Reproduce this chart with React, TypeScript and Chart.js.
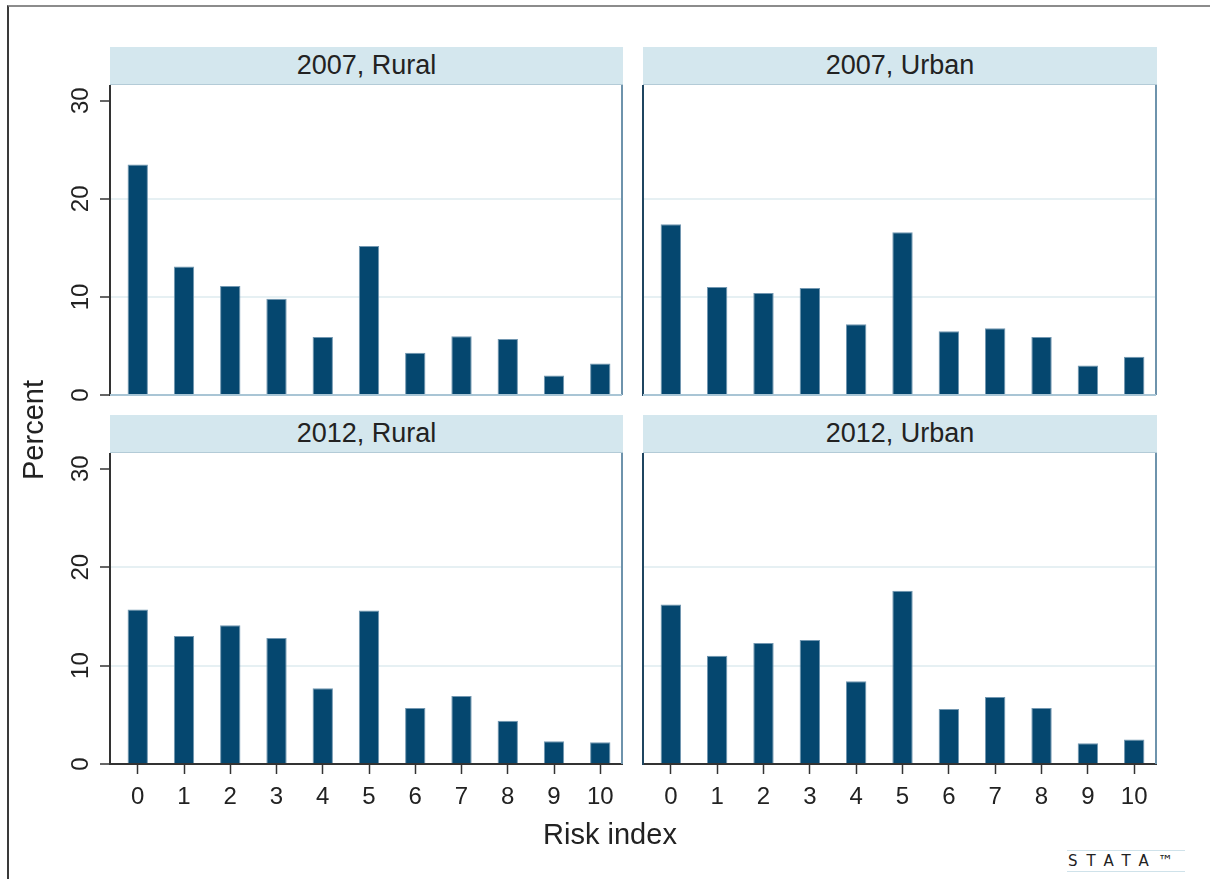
import React, { useEffect, useRef } from 'react';
import { Chart, registerables } from 'chart.js';

Chart.register(...registerables);

// ---------- data ----------
const riskIndex = [0, 1, 2, 3, 4, 5, 6, 7, 8, 9, 10];
const xTickValues = [0, 1, 2, 3, 4, 5, 6, 7, 8, 9, 10];
const yTickValues = [0, 10, 20, 30];
const rural2007 = [23.5, 13.1, 11.1, 9.8, 5.9, 15.2, 4.3, 6.0, 5.7, 2.0, 3.2];
const urban2007 = [17.4, 11.0, 10.4, 10.9, 7.2, 16.6, 6.5, 6.8, 5.9, 3.0, 3.9];
const rural2012 = [15.7, 13.0, 14.1, 12.8, 7.7, 15.6, 5.7, 6.9, 4.4, 2.3, 2.2];
const urban2012 = [16.2, 11.0, 12.3, 12.6, 8.4, 17.6, 5.6, 6.8, 5.7, 2.1, 2.5];
const panelTitles = ['2007, Rural', '2007, Urban', '2012, Rural', '2012, Urban'];
const yAxisTitle = 'Percent';
const xAxisTitle = 'Risk index';

const FONT = '"Liberation Sans", Arial, Helvetica, sans-serif';
const BAR_FILL = '#05476f';
const BAR_EDGE = '#7297b1';
const GRID = '#e6f0f3';
const AXIS = '#333333';

const framePlugin = {
  id: 'frame',
  afterDatasetsDraw(chart: any, _args: any, opts: any) {
    const { ctx, chartArea: a } = chart;
    ctx.save();
    ctx.lineWidth = 2;
    ctx.strokeStyle = opts.rightColor;
    ctx.beginPath();
    ctx.moveTo(a.right, a.top);
    ctx.lineTo(a.right, a.bottom);
    ctx.stroke();
    if (opts.bottomColor) {
      ctx.strokeStyle = opts.bottomColor;
      ctx.beginPath();
      ctx.moveTo(a.left, a.bottom);
      ctx.lineTo(a.right, a.bottom);
      ctx.stroke();
    }
    ctx.restore();
  },
};

type PanelProps = {
  values: number[];
  title: string;
  plotLeft: number;
  plotRight: number;
  plotTop: number;
  plotBottom: number;
  showY: boolean;
  showX: boolean;
};

function Panel({ values, title, plotLeft, plotRight, plotTop, plotBottom, showY, showX }: PanelProps) {
  const ref = useRef<HTMLCanvasElement | null>(null);
  const axisW = showY ? 70 : 4;
  const xAxisH = showX ? 60 : 0;
  const padR = 2;
  const padB = showX ? 0 : 16;
  const plotW = plotRight - plotLeft;
  const plotH = plotBottom - plotTop;
  const cw = axisW + plotW + padR;
  const ch = plotH + xAxisH + padB;

  useEffect(() => {
    if (!ref.current) return;
    const chart = new Chart(ref.current, {
      type: 'bar',
      data: {
        datasets: [
          {
            data: riskIndex.map((x, i) => ({ x, y: values[i] })),
            backgroundColor: BAR_FILL,
            borderColor: BAR_EDGE,
            borderWidth: 1,
            barPercentage: 0.44,
            categoryPercentage: 1,
          },
        ],
      },
      options: {
        animation: false,
        responsive: false,
        devicePixelRatio: 1,
        layout: { padding: { left: 0, top: 0, right: padR, bottom: padB } },
        plugins: {
          legend: { display: false },
          tooltip: { enabled: false },
          frame: { rightColor: '#6e93ac', bottomColor: showX ? null : '#a9c5d5' },
        } as any,
        scales: {
          x: {
            type: 'linear',
            display: showX,
            min: -0.6,
            max: 10.47,
            offset: false,
            afterBuildTicks: (s: any) => {
              s.ticks = xTickValues.map((v) => ({ value: v }));
            },
            afterFit: (s: any) => {
              s.height = xAxisH;
              s.paddingLeft = 0;
              s.paddingRight = 0;
            },
            grid: {
              offset: false,
              color: 'rgba(0,0,0,0)',
              tickColor: AXIS,
              tickLength: 10,
              tickWidth: 1.5,
            },
            border: { display: true, color: AXIS, width: 2 },
            ticks: {
              font: { size: 24, family: FONT },
              color: '#222',
              padding: 9,
              maxRotation: 0,
              minRotation: 0,
              autoSkip: false,
            },
          },
          y: {
            type: 'linear',
            min: 0,
            max: 31.6,
            afterBuildTicks: (s: any) => {
              s.ticks = yTickValues.map((v) => ({ value: v }));
            },
            afterFit: (s: any) => {
              s.width = axisW;
              s.paddingTop = 0;
              s.paddingBottom = 0;
            },
            grid: {
              color: (c: any) => (c.tick && (c.tick.value === 10 || c.tick.value === 20) ? GRID : 'rgba(0,0,0,0)'),
              lineWidth: 2,
              drawTicks: showY,
              tickColor: AXIS,
              tickLength: 10,
              tickWidth: 1.5,
            },
            border: { display: true, color: showY ? AXIS : '#1f4560', width: 2 },
            ticks: {
              display: showY,
              font: { size: 24, family: FONT },
              color: '#222',
              minRotation: 90,
              maxRotation: 90,
              crossAlign: 'center',
              padding: 5,
            },
          },
        },
      },
      plugins: [framePlugin as any],
    });
    return () => chart.destroy();
  }, []);

  return (
    <>
      <div
        style={{
          position: 'absolute',
          left: plotLeft,
          top: plotTop - 38,
          width: plotW + 1,
          height: 38,
          boxSizing: 'border-box',
          background: '#d4e7ee',
          borderBottom: '1px solid #b3cbd7',
          textAlign: 'center',
          font: `27px ${FONT}`,
          lineHeight: '37px',
          color: '#222',
        }}
      >
        {title}
      </div>
      <canvas
        ref={ref}
        width={cw}
        height={ch}
        style={{ position: 'absolute', left: plotLeft - axisW, top: plotTop, width: cw, height: ch }}
      />
    </>
  );
}

export default function App() {
  const cols = [
    { l: 110, r: 622 },
    { l: 643, r: 1156 },
  ];
  const rows = [
    { t: 85, b: 395 },
    { t: 453, b: 764 },
  ];
  const series = [rural2007, urban2007, rural2012, urban2012];
  return (
    <div
      style={{
        position: 'absolute',
        left: 0,
        top: 0,
        width: 1210,
        height: 879,
        background: '#fff',
        overflow: 'hidden',
        fontFamily: FONT,
      }}
    >
      <div
        style={{
          position: 'absolute',
          left: 7,
          top: 5,
          width: 1400,
          height: 1000,
          borderTop: '2px solid #8c8c8c',
          borderLeft: '2px solid #3a3a3a',
        }}
      />
      {series.map((vals, i) => {
        const c = cols[i % 2];
        const r = rows[Math.floor(i / 2)];
        return (
          <Panel
            key={i}
            values={vals}
            title={panelTitles[i]}
            plotLeft={c.l}
            plotRight={c.r}
            plotTop={r.t}
            plotBottom={r.b}
            showY={i % 2 === 0}
            showX={i >= 2}
          />
        );
      })}
      <div
        style={{
          position: 'absolute',
          left: 35 - 100,
          top: 430 - 18,
          width: 200,
          height: 36,
          lineHeight: '36px',
          textAlign: 'center',
          transform: 'rotate(-90deg)',
          font: `29px ${FONT}`,
          color: '#222',
        }}
      >
        {yAxisTitle}
      </div>
      <div
        style={{
          position: 'absolute',
          left: 610 - 150,
          top: 836 - 18,
          width: 300,
          height: 36,
          lineHeight: '36px',
          textAlign: 'center',
          font: `29px ${FONT}`,
          color: '#222',
        }}
      >
        {xAxisTitle}
      </div>
      <div
        style={{
          position: 'absolute',
          left: 1067,
          top: 850,
          width: 118,
          height: 22,
          boxSizing: 'border-box',
          borderTop: '1px solid #cfe2ea',
          borderBottom: '1px solid #cfe2ea',
          font: `15px "DejaVu Sans", sans-serif`,
          letterSpacing: '9px',
          lineHeight: '20px',
          color: '#222',
          textAlign: 'left',
          paddingLeft: 1,
          whiteSpace: 'nowrap',
        }}
      >
        STATA™
      </div>
    </div>
  );
}
